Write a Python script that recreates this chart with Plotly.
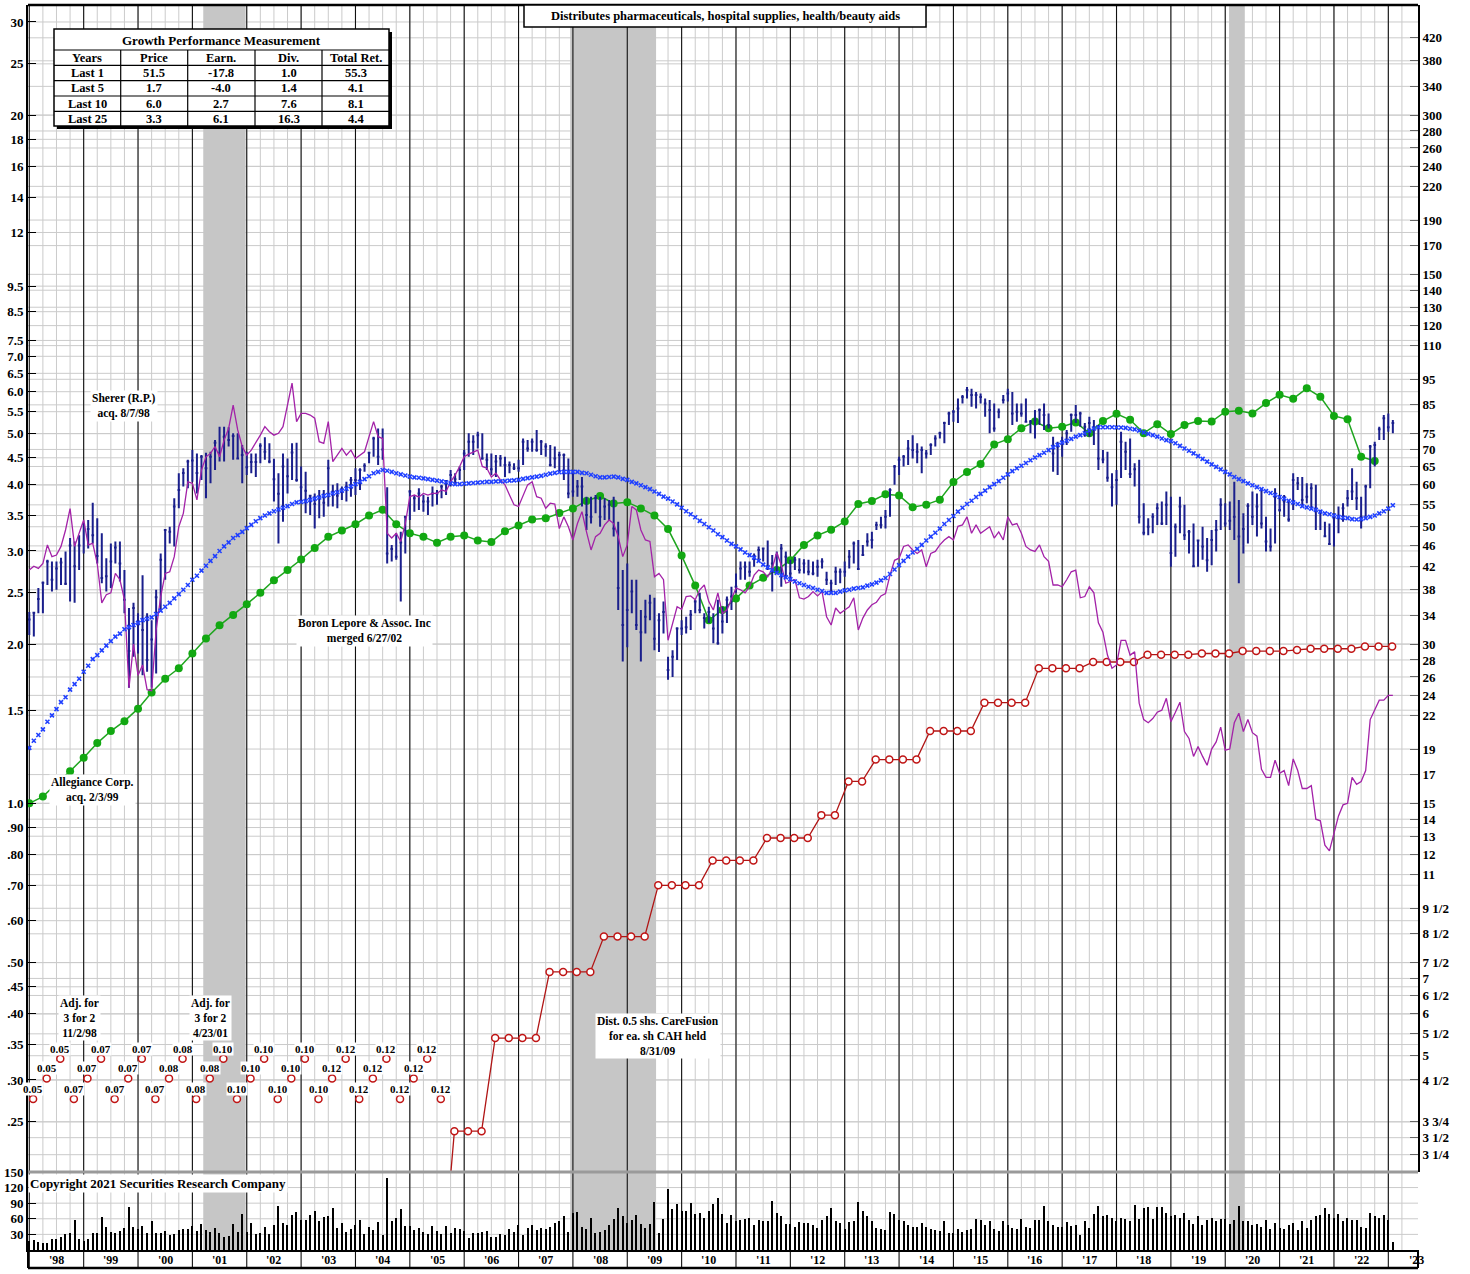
import numpy as np
import plotly.graph_objects as go

# ---------------- data (monthly bars Jan 1998 .. Feb 2023) ----------------
price_high = [
    34.5, 34.5, 38.3, 39.4, 43.3, 43.0, 43.0, 43.7, 44.9, 47.6, 46.9, 48.2,
    50.8, 51.5, 55.5, 51.9, 48.6, 43.6, 46.5, 46.9, 46.9, 41.4, 35.1, 35.9,
    34.3, 40.5, 34.3, 33.3, 38.0, 44.5, 49.5, 50.0, 56.6, 63.1, 64.5, 66.9,
    69.8, 68.8, 68.3, 69.0, 69.3, 72.9, 77.3, 77.3, 77.1, 75.1, 75.1, 71.4,
    69.3, 68.8, 68.8, 71.9, 73.8, 71.9, 67.2, 63.1, 68.8, 67.3, 71.9, 72.1,
    65.0, 63.5, 57.4, 57.8, 58.7, 58.7, 66.9, 60.0, 60.4, 59.6, 60.8, 62.1,
    64.5, 64.5, 65.9, 69.3, 74.0, 76.7, 76.7, 59.4, 46.2, 48.6, 48.9, 52.2,
    58.7, 57.4, 59.1, 57.4, 57.0, 59.6, 58.7, 60.0, 61.3, 64.0, 63.1, 65.0,
    69.8, 75.1, 74.5, 75.6, 75.1, 68.8, 68.8, 68.3, 68.3, 67.8, 66.4, 65.9,
    66.9, 73.4, 72.9, 73.4, 76.2, 72.9, 71.9, 71.4, 70.9, 69.3, 68.8, 67.3,
    64.0, 61.3, 62.1, 57.0, 57.0, 57.4, 57.0, 56.6, 56.2, 57.0, 51.1, 41.4,
    42.6, 39.7, 39.7, 34.8, 36.4, 37.2, 36.7, 34.3, 36.1, 28.4, 29.2, 32.3,
    33.3, 33.8, 34.8, 36.4, 37.5, 34.3, 35.3, 34.3, 36.4, 35.3, 36.9, 38.5,
    40.8, 43.0, 43.0, 43.0, 44.5, 45.9, 45.5, 47.1, 44.2, 44.9, 46.4, 44.9,
    43.3, 43.9, 43.6, 43.4, 43.3, 43.0, 43.3, 43.6, 41.1, 39.7, 42.0, 41.7,
    43.0, 45.2, 46.9, 47.2, 46.2, 48.6, 48.9, 51.1, 52.2, 53.8, 59.1, 65.4,
    67.8, 68.3, 72.9, 74.5, 71.9, 70.9, 69.8, 71.9, 74.5, 75.6, 79.0, 82.5,
    83.1, 87.4, 88.7, 91.9, 91.2, 89.9, 89.3, 87.4, 86.8, 85.5, 83.7, 88.7,
    91.2, 89.9, 85.5, 85.5, 87.4, 79.6, 83.1, 83.7, 85.5, 81.9, 74.0, 72.4,
    74.0, 76.2, 81.9, 84.9, 82.5, 78.5, 80.7, 79.6, 77.9, 69.8, 69.3, 63.1,
    64.0, 75.6, 72.4, 73.4, 65.9, 66.9, 55.4, 51.9, 53.0, 55.4, 55.8, 58.3,
    57.0, 50.7, 57.0, 55.0, 49.3, 50.7, 47.2, 50.0, 47.6, 49.3, 51.5, 56.6,
    55.4, 55.8, 60.8, 56.2, 53.0, 55.4, 58.3, 57.8, 59.1, 52.2, 49.6, 59.1,
    57.0, 57.4, 56.2, 63.1, 62.1, 62.1, 60.4, 60.4, 60.0, 53.8, 51.1, 50.7,
    53.0, 54.6, 55.4, 58.7, 64.5, 60.8, 57.0, 60.0, 71.4, 72.4, 77.3, 81.3,
    81.9, 79.6,
]
price_low = [
    31.2, 31.0, 34.3, 34.3, 38.8, 37.7, 38.0, 38.8, 38.8, 36.1, 35.9, 41.4,
    44.5, 45.5, 46.5, 42.6, 39.1, 37.7, 38.3, 42.6, 39.4, 34.3, 24.8, 28.4,
    28.8, 26.2, 26.6, 24.8, 26.4, 34.8, 39.7, 46.5, 45.9, 54.2, 59.6, 59.1,
    60.8, 57.8, 61.3, 56.6, 60.4, 64.0, 66.4, 66.4, 70.9, 66.9, 67.3, 60.4,
    62.6, 63.1, 62.1, 65.9, 66.9, 65.9, 55.8, 46.5, 51.1, 57.8, 61.3, 60.8,
    55.8, 53.0, 52.6, 49.6, 51.9, 52.2, 54.6, 54.6, 54.2, 56.2, 55.8, 57.0,
    57.4, 58.7, 63.5, 65.9, 67.8, 65.4, 66.9, 42.6, 43.0, 43.3, 36.1, 44.5,
    51.5, 53.4, 53.8, 53.4, 52.6, 54.6, 55.0, 56.6, 57.4, 59.6, 60.4, 61.3,
    64.0, 67.8, 68.3, 70.3, 66.9, 64.0, 62.6, 62.1, 65.0, 62.1, 63.1, 64.0,
    63.5, 65.4, 69.3, 69.3, 69.3, 68.3, 67.8, 65.0, 64.5, 63.5, 61.3, 56.6,
    57.0, 57.0, 54.6, 49.3, 50.7, 53.0, 50.0, 51.5, 51.5, 47.9, 34.8, 27.8,
    29.6, 34.3, 31.9, 27.8, 31.4, 33.3, 29.2, 29.0, 31.4, 25.7, 26.0, 28.0,
    31.2, 31.4, 31.9, 34.3, 34.3, 32.1, 32.9, 30.1, 29.9, 31.4, 32.9, 34.8,
    37.5, 39.7, 39.7, 40.2, 42.0, 43.3, 43.0, 41.4, 37.7, 40.8, 38.5, 40.2,
    39.7, 41.4, 40.8, 40.8, 40.5, 40.5, 40.2, 41.7, 38.8, 37.5, 38.8, 39.1,
    40.2, 41.7, 42.6, 41.4, 44.2, 45.9, 45.5, 49.3, 49.6, 49.6, 52.2, 60.0,
    62.6, 65.0, 65.4, 67.3, 65.9, 63.1, 67.3, 68.3, 70.9, 73.4, 71.9, 77.9,
    79.0, 78.5, 85.5, 87.4, 84.3, 83.7, 85.5, 80.7, 75.1, 75.6, 80.2, 85.5,
    86.2, 77.9, 79.0, 80.7, 79.0, 75.1, 73.4, 77.9, 76.2, 76.7, 63.5, 62.6,
    67.8, 71.4, 75.6, 78.5, 77.3, 74.0, 74.0, 71.4, 64.0, 65.9, 60.8, 54.6,
    55.0, 61.8, 64.0, 61.8, 59.6, 50.7, 48.2, 48.2, 48.6, 50.4, 50.4, 50.4,
    42.0, 43.9, 48.6, 47.2, 44.5, 42.0, 42.0, 43.3, 41.1, 42.3, 44.9, 49.3,
    50.0, 49.3, 47.2, 39.1, 44.5, 46.5, 50.4, 47.9, 49.6, 44.9, 44.9, 46.5,
    53.4, 52.2, 51.1, 53.8, 58.7, 54.6, 55.4, 54.2, 49.3, 49.3, 47.9, 46.2,
    45.9, 48.6, 51.1, 54.6, 56.2, 53.8, 49.6, 52.2, 59.1, 65.0, 72.9, 72.9,
    75.6, 75.1,
]
price_close = [
    33.4, 34.4, 36.5, 39.2, 43.0, 39.7, 41.7, 42.8, 39.0, 46.1, 42.1, 46.1,
    50.6, 49.5, 48.2, 44.0, 40.0, 40.3, 43.0, 45.7, 42.6, 36.4, 29.1, 35.1,
    32.9, 31.9, 28.0, 30.6, 36.8, 43.3, 49.3, 48.9, 54.6, 58.7, 63.2, 66.4,
    66.7, 63.2, 67.8, 64.5, 67.8, 72.1, 69.0, 74.0, 72.9, 74.2, 67.3, 68.3,
    64.8, 66.3, 66.3, 71.1, 69.3, 66.4, 61.5, 57.7, 65.0, 62.3, 69.1, 61.3,
    59.4, 58.5, 57.2, 55.2, 56.9, 55.5, 64.5, 58.3, 57.2, 58.5, 59.6, 61.3,
    61.3, 64.0, 65.2, 69.0, 73.4, 67.8, 70.0, 44.5, 45.4, 43.9, 46.7, 52.2,
    58.3, 56.6, 57.8, 55.8, 55.8, 57.8, 57.8, 59.6, 60.4, 62.6, 61.5, 64.0,
    68.8, 72.4, 72.4, 74.5, 67.3, 66.9, 64.2, 66.4, 67.3, 65.4, 65.4, 64.5,
    64.5, 72.4, 70.3, 72.4, 69.8, 72.4, 70.9, 65.4, 67.3, 68.3, 68.3, 57.8,
    58.3, 59.6, 59.6, 52.6, 52.2, 56.6, 52.2, 54.6, 55.0, 49.6, 38.3, 32.6,
    34.8, 37.7, 32.6, 31.6, 33.8, 35.9, 30.7, 33.3, 34.5, 26.8, 28.4, 32.1,
    32.1, 32.3, 34.1, 36.1, 34.8, 33.6, 34.5, 32.1, 30.1, 33.1, 36.4, 36.9,
    38.5, 41.7, 42.0, 41.1, 43.6, 45.2, 45.5, 42.0, 42.6, 44.2, 45.5, 43.9,
    40.8, 43.3, 41.4, 42.6, 41.1, 40.8, 42.0, 43.0, 39.7, 39.1, 41.1, 41.1,
    41.1, 43.9, 46.5, 41.6, 44.2, 46.9, 47.2, 50.4, 50.4, 52.2, 58.7, 65.0,
    66.9, 67.8, 70.3, 69.8, 69.3, 69.8, 68.8, 71.4, 73.4, 75.1, 78.5, 81.9,
    82.5, 83.7, 88.0, 90.7, 88.7, 88.7, 88.0, 85.5, 83.1, 76.7, 82.5, 86.8,
    89.3, 81.9, 82.5, 81.9, 79.0, 79.0, 79.6, 83.1, 81.3, 77.9, 68.8, 70.9,
    72.4, 75.1, 81.3, 81.3, 81.9, 77.3, 78.5, 76.7, 67.3, 67.0, 61.9, 59.4,
    61.3, 72.4, 69.3, 62.9, 64.2, 52.2, 48.7, 50.0, 52.2, 54.2, 50.7, 55.0,
    44.6, 50.0, 54.6, 48.2, 48.9, 42.1, 47.1, 45.9, 43.2, 47.2, 49.3, 55.0,
    50.7, 51.3, 52.2, 47.9, 49.5, 54.7, 52.2, 54.6, 50.7, 46.9, 45.9, 57.0,
    53.8, 55.8, 51.6, 61.3, 60.4, 56.2, 57.0, 59.1, 53.8, 53.4, 48.0, 46.4,
    51.9, 51.9, 54.2, 56.6, 58.3, 56.6, 52.2, 59.6, 70.9, 71.4, 76.4, 80.2,
    77.1, 78.5,
]
moving_avg = [
    19.1, 19.7, 20.2, 20.7, 21.4, 22.0, 22.6, 23.3, 23.8, 24.6, 25.2, 25.8,
    26.6, 27.3, 28.1, 28.6, 29.2, 29.8, 30.4, 31.0, 31.4, 32.0, 32.3, 32.6,
    32.9, 33.3, 33.5, 33.7, 34.2, 34.7, 35.3, 35.9, 36.6, 37.3, 38.0, 38.8,
    39.7, 40.4, 41.3, 42.2, 43.1, 44.0, 45.0, 45.9, 46.7, 47.6, 48.2, 48.9,
    49.7, 50.4, 51.2, 51.9, 52.5, 53.0, 53.5, 53.9, 54.3, 54.7, 55.2, 55.6,
    55.7, 55.9, 56.2, 56.5, 56.8, 57.2, 57.4, 57.8, 58.1, 58.5, 59.0, 59.6,
    60.2, 60.8, 61.5, 62.3, 63.1, 63.5, 64.0, 63.8, 63.5, 63.1, 62.8, 62.5,
    62.2, 62.0, 61.9, 61.7, 61.5, 61.3, 61.1, 60.9, 60.7, 60.4, 60.2, 60.2,
    60.3, 60.4, 60.5, 60.6, 60.7, 60.8, 60.8, 60.9, 60.9, 61.0, 61.1, 61.2,
    61.3, 61.6, 61.8, 62.0, 62.2, 62.4, 62.7, 63.0, 63.2, 63.4, 63.5, 63.5,
    63.5, 63.5, 63.2, 63.1, 62.7, 62.3, 62.0, 62.0, 62.1, 62.2, 62.0, 61.6,
    61.3, 60.8, 60.4, 59.9, 59.4, 58.9, 58.3, 57.7, 57.0, 56.5, 55.8, 55.1,
    54.3, 53.5, 52.8, 52.1, 51.3, 50.6, 49.9, 49.2, 48.4, 47.8, 47.1, 46.4,
    45.9, 45.3, 44.7, 44.2, 43.7, 43.1, 42.4, 41.9, 41.4, 40.9, 40.5, 40.1,
    39.8, 39.4, 39.1, 38.8, 38.5, 38.3, 38.0, 37.8, 37.5, 37.5, 37.5, 37.7,
    37.9, 38.0, 38.2, 38.3, 38.4, 38.7, 38.9, 39.2, 39.6, 40.0, 40.7, 41.5,
    42.3, 43.1, 43.9, 44.7, 45.4, 46.2, 47.1, 47.9, 48.7, 49.6, 50.6, 51.5,
    52.4, 53.4, 54.3, 55.2, 56.0, 56.9, 57.7, 58.5, 59.4, 60.2, 61.0, 61.9,
    62.8, 63.7, 64.5, 65.2, 66.0, 66.8, 67.6, 68.3, 69.0, 69.8, 70.7, 71.4,
    72.1, 72.7, 73.3, 74.0, 74.5, 75.1, 76.0, 76.7, 77.1, 77.1, 77.1, 77.1,
    77.0, 77.0, 76.9, 76.6, 76.4, 76.0, 75.4, 74.9, 74.5, 74.0, 73.4, 72.9,
    72.6, 71.9, 71.1, 70.3, 69.6, 68.8, 68.0, 67.2, 66.4, 65.6, 64.9, 64.2,
    63.5, 62.8, 62.1, 61.5, 61.0, 60.4, 59.9, 59.4, 58.9, 58.4, 57.9, 57.4,
    56.9, 56.5, 56.0, 55.6, 55.2, 54.7, 54.4, 54.1, 53.8, 53.4, 53.0, 52.8,
    52.5, 52.2, 52.0, 51.9, 51.7, 51.6, 51.7, 51.9, 52.2, 52.5, 53.0, 53.5,
    54.1, 54.9,
]
rel_strength = [
    41.4, 42.1, 41.7, 42.6, 46.2, 43.9, 44.2, 45.9, 49.3, 54.1, 45.9, 48.6,
    51.5, 46.2, 46.5, 42.6, 35.9, 37.2, 37.5, 40.8, 39.7, 36.4, 24.8, 30.0,
    26.2, 27.4, 24.6, 24.5, 31.9, 36.9, 40.8, 41.1, 43.9, 50.0, 53.0, 60.8,
    60.4, 56.2, 64.0, 67.8, 68.8, 70.9, 67.8, 72.9, 76.7, 84.9, 76.2, 70.9,
    68.3, 69.8, 71.9, 74.5, 77.3, 75.6, 74.5, 75.1, 77.3, 85.5, 93.4, 79.0,
    81.9, 81.9, 81.3, 80.2, 72.4, 71.9, 79.0, 66.4, 68.3, 70.3, 68.3, 69.8,
    67.3, 68.3, 69.3, 74.0, 79.0, 74.0, 73.4, 48.6, 47.6, 48.6, 46.9, 50.7,
    57.0, 57.4, 56.9, 57.8, 57.4, 57.8, 57.8, 58.7, 58.3, 60.8, 62.6, 65.0,
    67.8, 68.6, 69.3, 69.8, 65.0, 64.5, 62.1, 63.1, 61.3, 60.0, 57.4, 55.0,
    54.6, 57.4, 60.0, 60.8, 57.0, 56.6, 54.2, 55.4, 55.2, 49.6, 52.2, 50.0,
    47.2, 50.7, 53.4, 48.9, 45.2, 47.9, 48.6, 50.4, 51.5, 50.7, 47.9, 43.9,
    46.2, 54.6, 53.8, 49.3, 47.2, 46.9, 40.2, 40.8, 39.7, 30.5, 32.9, 35.3,
    34.9, 36.9, 37.0, 36.4, 38.0, 38.8, 36.1, 34.8, 37.5, 34.3, 34.8, 36.4,
    38.3, 38.0, 37.5, 38.5, 40.5, 41.4, 41.1, 40.2, 41.7, 44.7, 42.3, 39.1,
    39.4, 39.7, 36.7, 36.5, 36.9, 37.7, 37.0, 37.7, 33.8, 32.6, 35.1, 34.3,
    34.8, 35.3, 36.7, 31.9, 33.6, 34.8, 35.6, 36.0, 37.0, 37.4, 40.5, 43.2,
    43.6, 45.9, 46.2, 45.2, 44.5, 45.2, 42.0, 44.5, 44.9, 46.2, 47.2, 47.9,
    47.2, 50.1, 50.4, 52.2, 48.6, 50.4, 48.6, 49.3, 50.0, 47.6, 48.9, 47.2,
    52.2, 50.4, 50.7, 48.6, 45.9, 45.2, 44.9, 46.2, 43.9, 43.0, 38.8, 38.8,
    38.5, 39.7, 41.1, 41.4, 36.7, 36.9, 38.5, 37.5, 32.9, 31.6, 28.6, 27.0,
    27.4, 30.5, 30.5, 28.6, 29.0, 23.2, 21.6, 21.3, 21.7, 22.3, 22.5, 23.7,
    21.4, 22.3, 23.3, 20.5, 19.9, 18.4, 19.2, 18.4, 17.7, 19.0, 19.6, 20.9,
    18.9, 19.0, 21.3, 22.2, 20.5, 21.6, 20.4, 20.1, 17.4, 16.8, 16.8, 18.1,
    17.1, 17.3, 16.2, 18.2, 17.3, 16.0, 16.0, 16.2, 14.0, 13.9, 12.5, 12.2,
    13.2, 14.2, 14.9, 15.0, 16.8, 16.3, 16.5, 17.3, 21.6, 22.5, 23.5, 23.5,
    24.0, 24.0,
]
volume = [  # millions of shares
    17, 19, 15, 13, 13, 22, 22, 25, 30, 32, 58, 22,
    18, 22, 33, 33, 64, 45, 34, 33, 37, 43, 82, 45,
    40, 46, 32, 55, 33, 33, 36, 28, 31, 38, 40, 40,
    46, 36, 50, 38, 35, 42, 32, 25, 27, 50, 34, 70,
    35, 52, 30, 33, 45, 30, 48, 85, 52, 48, 68, 73,
    57, 58, 68, 76, 55, 64, 66, 80, 43, 52, 35, 40,
    48, 58, 30, 44, 38, 53, 28, 138, 55, 62, 78, 46,
    46, 38, 42, 35, 30, 46, 36, 30, 47, 32, 43, 40,
    36, 24, 32, 33, 35, 36, 25, 25, 30, 28, 40, 35,
    48, 28, 43, 48, 38, 43, 40, 45, 52, 55, 65, 35,
    72, 73, 45, 40, 62, 32, 35, 38, 48, 60, 80, 66,
    52, 58, 68, 50, 42, 50, 92, 32, 60, 118, 78, 88,
    75, 75, 90, 70, 72, 62, 75, 88, 100, 70, 52, 68,
    55, 58, 60, 62, 48, 58, 55, 55, 95, 72, 66, 50,
    50, 45, 53, 52, 52, 48, 42, 58, 65, 80, 56, 52,
    40, 53, 55, 92, 76, 65, 56, 42, 40, 38, 73, 70,
    58, 56, 48, 44, 45, 52, 44, 40, 38, 36, 56, 33,
    32, 40, 35, 38, 40, 60, 58, 48, 56, 40, 36, 55,
    48, 42, 40, 60, 45, 42, 57, 58, 85, 55, 48, 45,
    44, 53, 46, 48, 28, 55, 42, 70, 85, 65, 68, 62,
    55, 62, 60, 55, 86, 60, 80, 82, 60, 82, 82, 72,
    65, 68, 62, 72, 58, 50, 66, 48, 58, 62, 55, 60,
    60, 50, 58, 85, 55, 55, 48, 50, 44, 58, 40, 52,
    42, 40, 48, 52, 38, 55, 42, 58, 65, 68, 80, 70,
    62, 70, 55, 62, 58, 58, 45, 42, 72, 66, 62, 68,
    58, 15,
]

# quarterly series, Q1 1998 ..
earnings = [
    1.00, 1.03, 1.09, 1.15, 1.22, 1.30, 1.37, 1.43, 1.51, 1.62,
    1.72, 1.80, 1.92, 2.05, 2.17, 2.27, 2.38, 2.50, 2.64, 2.76,
    2.89, 3.04, 3.19, 3.28, 3.37, 3.50, 3.59, 3.37, 3.24, 3.19,
    3.11, 3.19, 3.21, 3.14, 3.12, 3.27, 3.35, 3.44, 3.46, 3.54,
    3.61, 3.73, 3.81, 3.69, 3.71, 3.61, 3.50, 3.30, 2.94, 2.58,
    2.22, 2.32, 2.44, 2.58, 2.67, 2.76, 2.88, 3.08, 3.21, 3.29,
    3.41, 3.68, 3.73, 3.84, 3.82, 3.63, 3.67, 3.75, 4.05, 4.23,
    4.38, 4.77, 4.88, 5.12, 5.27, 5.12, 5.15, 5.25, 5.01, 5.28,
    5.45, 5.31, 5.01, 5.21, 4.99, 5.19, 5.28, 5.27, 5.50, 5.52,
    5.46, 5.71, 5.92, 5.82, 6.09, 5.87, 5.40, 5.32, 4.52, 4.44,
]
dividends = [  # annual rate
    0.05, 0.05, 0.05, 0.07, 0.07, 0.07, 0.07, 0.07, 0.07, 0.07,
    0.08, 0.08, 0.08, 0.08, 0.10, 0.10, 0.10, 0.10, 0.10, 0.10,
    0.10, 0.10, 0.12, 0.12, 0.12, 0.12, 0.12, 0.12, 0.12, 0.12,
    0.12, 0.24, 0.24, 0.24, 0.36, 0.36, 0.36, 0.36, 0.48, 0.48,
    0.48, 0.48, 0.56, 0.56, 0.56, 0.56, 0.70, 0.70, 0.70, 0.70,
    0.78, 0.78, 0.78, 0.78, 0.86, 0.86, 0.86, 0.86, 0.95, 0.95,
    1.10, 1.10, 1.21, 1.21, 1.21, 1.21, 1.37, 1.37, 1.37, 1.37,
    1.55, 1.55, 1.55, 1.55, 1.80, 1.80, 1.80, 1.80, 1.85, 1.85,
    1.85, 1.85, 1.91, 1.91, 1.91, 1.91, 1.92, 1.92, 1.92, 1.94,
    1.94, 1.94, 1.94, 1.95, 1.96, 1.96, 1.96, 1.96, 1.98, 1.98,
    1.98,
]

recessions = [(2001.2, 2001.98), (2007.95, 2009.53), (2020.07, 2020.36)]

perf_title = "Growth Performance Measurement"
perf_header = ["Years", "Price", "Earn.", "Div.", "Total Ret."]
perf_rows = [
    ["Last 1", "51.5", "-17.8", "1.0", "55.3"],
    ["Last 5", "1.7", "-4.0", "1.4", "4.1"],
    ["Last 10", "6.0", "2.7", "7.6", "8.1"],
    ["Last 25", "3.3", "6.1", "16.3", "4.4"],
]

left_ticks = [30, 25, 20, 18, 16, 14, 12, 9.5, 8.5, 7.5, 7.0, 6.5, 6.0, 5.5, 5.0,
              4.5, 4.0, 3.5, 3.0, 2.5, 2.0, 1.5, 1.0, 0.9, 0.8, 0.7, 0.6, 0.5,
              0.45, 0.4, 0.35, 0.3, 0.25]
left_labels = ["30", "25", "20", "18", "16", "14", "12", "9.5", "8.5", "7.5", "7.0",
               "6.5", "6.0", "5.5", "5.0", "4.5", "4.0", "3.5", "3.0", "2.5", "2.0",
               "1.5", "1.0", ".90", ".80", ".70", ".60", ".50", ".45", ".40", ".35",
               ".30", ".25"]
right_ticks = [420, 380, 340, 300, 280, 260, 240, 220, 190, 170, 150, 140, 130, 120,
               110, 95, 85, 75, 70, 65, 60, 55, 50, 46, 42, 38, 34, 30, 28, 26, 24,
               22, 19, 17, 15, 14, 13, 12, 11, 9.5, 8.5, 7.5, 7, 6.5, 6, 5.5, 5,
               4.5, 3.75, 3.5, 3.25]
right_labels = [str(v) for v in right_ticks[:39]] + [
    "9 1/2", "8 1/2", "7 1/2", "7", "6 1/2", "6", "5 1/2", "5", "4 1/2",
    "3 3/4", "3 1/2", "3 1/4"]
vol_ticks = [30, 60, 90, 120, 150]

# ---------------- layout constants ----------------
W, H = 1470, 1274
ML, MR, MT, MB = 28, 52, 5, 24
PW, PH = W - ML - MR, H - MT - MB
SCALE = 15                      # price scale = 15 x earnings scale
EPS_LO, EPS_HI = 0.201, 32.3
VOL_MAX = 150
VOL_TOP = 0.0627                # volume panel height (paper)
X0, X1 = 1997.976, 2023.546
FONT = "Liberation Serif, Times New Roman, serif"
GRID = "#cbcbcb"
DIV_ROWS = [0.276, 0.302, 0.329]

lo, hi = np.log10(EPS_LO), np.log10(EPS_HI)
sh = np.log10(SCALE)


def px(x):
    return (x - ML) / PW


def py(y):
    return (H - MB - y) / PH


def eps_paper(v):
    return VOL_TOP + (np.log10(v) - lo) / (hi - lo) * (1 - VOL_TOP)


months = 1998 + np.arange(len(price_close)) / 12
quarters = 1998 + np.arange(len(earnings)) / 4
div_x = 1998 + np.arange(len(dividends)) / 4 + 0.07
n_label = sum(1 for d in dividends if d < EPS_LO)

fig = go.Figure()

fig.add_trace(go.Bar(x=months, y=volume, yaxis="y3", width=0.022,
                     marker=dict(color="black", line_width=0)))
fig.add_trace(go.Scatter(x=months, y=rel_strength, yaxis="y2", mode="lines",
                         line=dict(color="#a322a8", width=1.3)))
fig.add_trace(go.Scatter(x=months, y=moving_avg, yaxis="y2", mode="markers",
                         marker=dict(symbol="x-thin", size=4, color="#2040ff",
                                     line=dict(color="#2040ff", width=1.6))))
# dividend staircase (from the last off-scale quarter onward)
fig.add_trace(go.Scatter(x=div_x[n_label - 1:], y=dividends[n_label - 1:], yaxis="y",
                         mode="lines+markers",
                         line=dict(color="#b01515", width=1.3),
                         marker=dict(symbol="circle", size=7, color="white",
                                     line=dict(color="#c01515", width=1.5))))
# early dividends shown as labelled circles
fig.add_trace(go.Scatter(x=div_x[:n_label],
                         y=[DIV_ROWS[k % 3] for k in range(n_label)], yaxis="y",
                         mode="markers",
                         marker=dict(symbol="circle", size=7, color="white",
                                     line=dict(color="#c01515", width=1.5))))
fig.add_trace(go.Ohlc(x=months, open=price_close, high=price_high, low=price_low,
                      close=price_close, yaxis="y2", tickwidth=0.3,
                      increasing_line=dict(color="#1a1f8c", width=2),
                      decreasing_line=dict(color="#1a1f8c", width=2)))
fig.add_trace(go.Scatter(x=quarters, y=earnings, yaxis="y", mode="lines+markers",
                         line=dict(color="#1fa51f", width=1.5),
                         marker=dict(size=8, color="#12a812")))

shapes = []


def hline(y, color=GRID, width=1, layer="below", x0=0, x1=1):
    shapes.append(dict(type="line", xref="paper", yref="paper", x0=x0, x1=x1,
                       y0=y, y1=y, line=dict(color=color, width=width), layer=layer))


# grid (drawn as shapes so the recession bands sit on top of it)
for v in left_ticks:
    hline(eps_paper(v))
for v in right_ticks:
    if v / SCALE > EPS_LO:
        hline(eps_paper(v / SCALE))
for v in vol_ticks[:-1]:
    hline(v / VOL_MAX * VOL_TOP)
for q in np.arange(1998.25, 2023.5, 0.25):
    shapes.append(dict(type="line", xref="x", yref="paper", x0=q, x1=q, y0=0, y1=1,
                       line=dict(color=GRID, width=1), layer="below"))
for a, b in recessions:
    shapes.append(dict(type="rect", xref="x", yref="paper", x0=a, x1=b, y0=0, y1=1,
                       fillcolor="#c6c6c6", line_width=0, layer="below"))
for yr in range(1998, 2024):
    shapes.append(dict(type="line", xref="x", yref="paper", x0=yr, x1=yr,
                       y0=py(1268), y1=1, line=dict(color="#111111", width=1.1),
                       layer="below"))
# frame pieces
hline(VOL_TOP, color="#9a9a9a", width=3, layer="above")
hline(1, color="black", width=2.5, layer="above")
hline(py(1268), color="black", width=2.5, layer="above")
for xx in (0, 1):
    shapes.append(dict(type="line", xref="paper", yref="paper", x0=xx, x1=xx,
                       y0=py(1268), y1=0, line=dict(color="black", width=2)))
# top description box
shapes.append(dict(type="rect", xref="paper", yref="paper", x0=px(524), x1=px(926),
                   y0=py(27), y1=py(5), fillcolor="white",
                   line=dict(color="black", width=1.5), layer="above"))
# performance table
shapes.append(dict(type="rect", xref="paper", yref="paper", x0=px(57), x1=px(392),
                   y0=py(129), y1=py(32), fillcolor="black", line_width=0, layer="above"))
shapes.append(dict(type="rect", xref="paper", yref="paper", x0=px(54), x1=px(389),
                   y0=py(126), y1=py(29), fillcolor="white",
                   line=dict(color="black", width=1.5), layer="above"))
for yy in [50, 65.3, 80.7, 96, 111.3]:
    hline(py(yy), color="black", width=1.2, layer="above", x0=px(54), x1=px(389))
for xx in [120.7, 187.7, 255, 322]:
    shapes.append(dict(type="line", xref="paper", yref="paper", x0=px(xx), x1=px(xx),
                       y0=py(126), y1=py(50), line=dict(color="black", width=1.2),
                       layer="above"))

bold = dict(family=FONT, color="black", weight="bold")
ann = []


def note(text, x, y, size=11.5, bg="white", xanchor="center"):
    ann.append(dict(text=text, x=px(x), y=py(y), xref="paper", yref="paper",
                    showarrow=False, xanchor=xanchor, yanchor="middle",
                    font=dict(size=size, **bold), bgcolor=bg, borderpad=1))


note("Distributes pharmaceuticals, hospital supplies, health/beauty aids", 725, 16,
     size=12.5, bg=None)
note(perf_title, 221, 40, size=13, bg=None)
col_centers = [87.4, 154.2, 221.4, 288.5, 355.5]
row_centers = [57.7, 73, 88.3, 103.7, 118.7]
for c, txt in zip(col_centers, perf_header):
    note(txt, c, row_centers[0], size=12.5, bg=None)
for r, row in zip(row_centers[1:], perf_rows):
    for c, txt in zip(col_centers, row):
        note(txt, c, r, size=12.5, bg=None)

note("Sherer (R.P.)<br>acq. 8/7/98", 124, 405.5)
note("Allegiance Corp.<br>acq. 2/3/99", 92, 790)
note("Boron Lepore & Assoc. Inc<br>merged 6/27/02", 364, 631)
note("Adj. for<br>3 for 2<br>11/2/98", 79, 1018)
note("Adj. for<br>3 for 2<br>4/23/01", 210, 1018)
note("Dist. 0.5 shs. CareFusion<br>for ea. sh CAH held<br>8/31/09", 658, 1035.5)
note("Copyright 2021 Securities Research Company", 28, 1183, size=13, xanchor="left")

# year labels in the band under the volume panel
for yr in range(1998, 2023):
    ann.append(dict(text="'%02d" % (yr % 100), x=yr + 0.5, y=py(1259.5), xref="x",
                    yref="paper", showarrow=False, yanchor="middle",
                    font=dict(size=12, **bold)))
note("'23", 1416, 1259.5, size=12, bg=None)

for k in range(n_label):
    ann.append(dict(text="%.2f" % dividends[k], x=div_x[k],
                    y=np.log10(DIV_ROWS[k % 3]), xref="x", yref="y", yshift=10,
                    showarrow=False, font=dict(size=11, **bold), bgcolor="white",
                    borderpad=0))

tickfont = dict(family=FONT, size=13, color="black", weight="bold")

fig.update_layout(
    width=W, height=H,
    margin=dict(l=ML, r=MR, t=MT, b=MB, autoexpand=False),
    paper_bgcolor="white", plot_bgcolor="white", showlegend=False,
    shapes=shapes, annotations=ann, bargap=0,
    xaxis=dict(range=[X0, X1], anchor="y3", showticklabels=False, ticks="",
               showgrid=False, showline=True, linecolor="black", linewidth=2,
               zeroline=False, automargin=False, rangeslider=dict(visible=False)),
    yaxis=dict(type="log", range=[lo, hi], domain=[VOL_TOP, 1], anchor="x",
               tickvals=left_ticks, ticktext=left_labels, ticks="inside", ticklen=8,
               tickcolor="black", showgrid=False, showline=True, linecolor="black",
               linewidth=2, zeroline=False, automargin=False, tickfont=tickfont),
    yaxis2=dict(type="log", range=[lo + sh, hi + sh], overlaying="y", side="right",
                anchor="x", tickvals=right_ticks, ticktext=right_labels,
                ticks="inside", ticklen=8, tickcolor="#666666", showgrid=False,
                showline=True, linecolor="black", linewidth=2, zeroline=False,
                automargin=False, tickfont=tickfont),
    yaxis3=dict(range=[0, VOL_MAX], domain=[0, VOL_TOP], anchor="x",
                tickvals=vol_ticks, ticktext=[str(v) for v in vol_ticks],
                ticks="inside", ticklen=8, tickcolor="black", showgrid=False,
                showline=True, linecolor="black", linewidth=2, zeroline=False,
                automargin=False, tickfont=tickfont),
    yaxis4=dict(range=[0, VOL_MAX], overlaying="y3", side="right", anchor="x",
                tickvals=vol_ticks,
                ticktext=[str(v) for v in vol_ticks[:-1]] + ["150M"],
                ticks="inside", ticklen=8, tickcolor="#666666", showgrid=False,
                showline=True, linecolor="black", linewidth=2, zeroline=False,
                automargin=False, tickfont=tickfont),
)

fig.write_html("out.html", config={"displayModeBar": False},
               post_script="document.body.style.margin='0';")
